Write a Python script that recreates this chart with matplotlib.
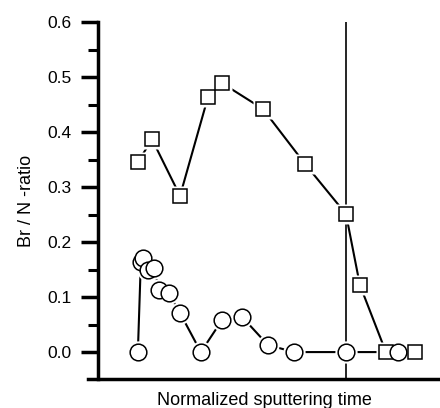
import matplotlib; matplotlib.use('Agg')
import matplotlib.pyplot as plt
from matplotlib.ticker import MultipleLocator

plt.rcParams['font.family'] = ['Liberation Sans', 'DejaVu Sans']

# normalized sputtering time (interface at 1.0) and Br/N ratios
sq_x = [0.161, 0.218, 0.331, 0.444, 0.500, 0.665, 0.835, 1.000, 1.056, 1.161, 1.278]
sq_y = [0.345, 0.387, 0.284, 0.464, 0.489, 0.442, 0.342, 0.251, 0.122, 0.0, 0.0]
ci_x = [0.161, 0.173, 0.181, 0.202, 0.226, 0.246, 0.286, 0.331, 0.415, 0.500,
        0.581, 0.685, 0.790, 1.000, 1.210]
ci_y = [0.0, 0.164, 0.171, 0.149, 0.153, 0.113, 0.107, 0.071, 0.0, 0.058,
        0.064, 0.013, 0.0, 0.0, 0.0]
interface = 1.0

fig = plt.figure(figsize=(4.4, 4.08), dpi=100)
ax = fig.add_axes([0.2, 0.071, 0.8, 0.875])

# connecting lines, then a white halo so lines stop short of symbols
for x, y, m, ms in [(sq_x, sq_y, 's', 10), (ci_x, ci_y, 'o', 12)]:
    ax.plot(x, y, '-', color='black', lw=1.5, zorder=2)
    ax.plot(x, y, m, ls='none', ms=ms + 4, mfc='white', mec='none', zorder=3)
for x, y, m, ms in [(sq_x, sq_y, 's', 10), (ci_x, ci_y, 'o', 12)]:
    ax.plot(x, y, m, ls='none', ms=ms, mfc='white', mec='black', mew=1.1, zorder=4)

ax.axvline(interface, color='black', lw=1.2, zorder=1)

ax.set_xlim(-0.04, 1.379)
ax.set_ylim(-0.049, 0.6)
ax.spines['left'].set_position(('data', 0))
ax.spines['top'].set_visible(False)
ax.spines['right'].set_visible(False)
ax.spines['left'].set_linewidth(2.5)
ax.spines['bottom'].set_linewidth(2.5)
ax.spines['left'].set_bounds(-0.049, 0.6)

ax.yaxis.set_major_locator(MultipleLocator(0.1))
ax.yaxis.set_minor_locator(MultipleLocator(0.05))
ax.yaxis.set_major_formatter(plt.FormatStrFormatter('%.1f'))
ax.tick_params(axis='y', which='major', length=12, width=2.5, labelsize=12.5, pad=7)
ax.tick_params(axis='y', which='minor', length=7, width=2.2)
ax.set_xticks([])

ax.set_ylabel('Br / N -ratio', fontsize=13, labelpad=9)
ax.set_xlabel('Normalized sputtering time', fontsize=13, labelpad=9)

plt.savefig('out.png', dpi=100)
